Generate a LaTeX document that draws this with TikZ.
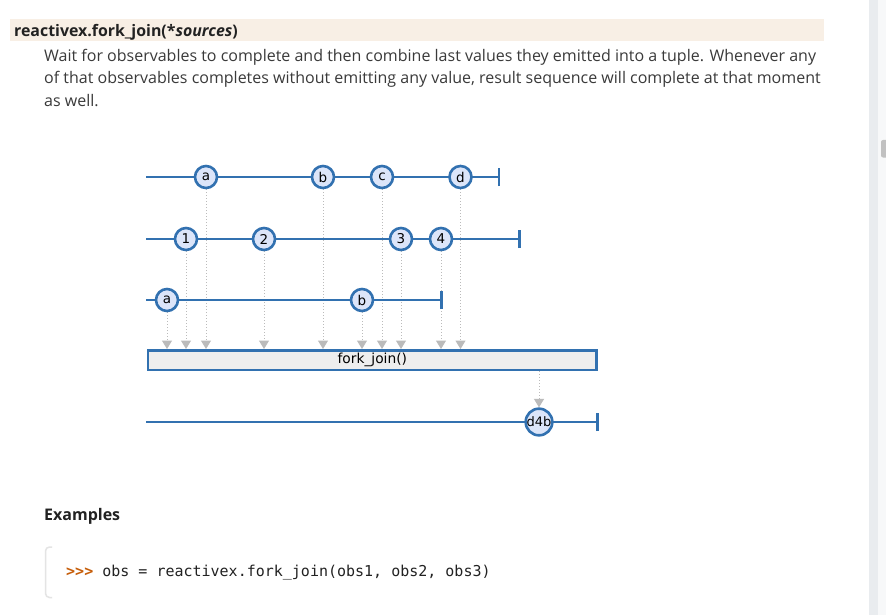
\documentclass[tikz,border=0pt]{standalone}
\usepackage{fontspec}
\setmainfont{Open Sans}
\setmonofont{DejaVu Sans Mono}
\newfontfamily\marblefont{DejaVu Sans}
\usetikzlibrary{arrows.meta,positioning,backgrounds}
\definecolor{rxblue}{HTML}{3271B0}
\definecolor{rxfill}{HTML}{DCE5F9}
\definecolor{rxgray}{HTML}{BBBBBB}
\definecolor{opfill}{HTML}{EEEEEE}
\definecolor{titlebar}{HTML}{F8EFE5}
\definecolor{titletext}{HTML}{222222}
\definecolor{bodytext}{HTML}{3A3A3A}
\definecolor{promptred}{HTML}{C65D09}
\definecolor{codeedge}{HTML}{E4E4E4}
\definecolor{scrolltrack}{HTML}{E9ECEF}
\definecolor{scrollside}{HTML}{F7F8F9}
\definecolor{scrollthumb}{HTML}{C1C1C1}

\begin{document}
\begin{tikzpicture}[
  x=1pt, y=-1pt,
  timeline/.style={rxblue, line width=2.4pt},
  marble/.style={circle, draw=rxblue, fill=rxfill, line width=2.6pt, minimum size=22pt, inner sep=0pt, font=\marblefont\fontsize{13.5}{15}\selectfont},
  opbox/.style={rectangle, draw=rxblue, fill=opfill, line width=2.5pt, minimum width=448.5pt, minimum height=19.5pt, inner sep=0pt, font=\marblefont\fontsize{13.8}{15}\selectfont},
  drop/.style={rxgray, line width=1pt, dash pattern=on 1pt off 2pt, -{Triangle[width=10pt,length=8.5pt]}},
  body/.style={anchor=base west, inner sep=0pt, text=bodytext, font=\fontsize{16}{19}\selectfont},
]
  \useasboundingbox (0,0) rectangle (886,615);

  % Page header
  \fill[titlebar] (10,19) rectangle (824,41);
  \node[anchor=base west, inner sep=0pt, text=titletext, font=\bfseries\fontsize{15.9}{18}\selectfont] (title) at (14,36.5) {reactivex.fork\_join(*\textit{sources})};
  \node[body] (line1) at (44,61.5) {Wait for observables to complete and then combine last values they emitted into a tuple. Whenever any};
  \node[body] (line2) at (44,84) {of that observables completes without emitting any value, result sequence will complete at that moment};
  \node[body] (line3) at (44,106.5) {as well.};

  % Source observables
  \node[marble] (s1a) at (206,177) {a};
  \node[marble] (s1b) at (323,177) {b};
  \node[marble] (s1c) at (382,177) {c};
  \node[marble] (s1d) at (460.5,177) {d};
  \coordinate (s1start) at (146,177);
  \coordinate (s1end) at (499,177);

  \node[marble] (s2a) at (186,239) {1};
  \node[marble] (s2b) at (264,239) {2};
  \node[marble] (s2c) at (401,239) {3};
  \node[marble] (s2d) at (441,239) {4};
  \coordinate (s2start) at (146,239);
  \coordinate (s2end) at (519.5,239);

  \node[marble] (s3a) at (167,300) {a};
  \node[marble] (s3b) at (362,300) {b};
  \coordinate (s3start) at (146,300);
  \coordinate (s3end) at (441.5,300);

  % Operator
  \node[opbox] (op) at (372.3,360) {fork\_join()};

  % Result
  \node[marble, font=\marblefont\fontsize{13}{15}\selectfont] (res) at (539,422) {d4b};
  \coordinate (rstart) at (146,422);
  \coordinate (rend) at (597.5,422);

  \begin{scope}[on background layer]
    \fill[white] (0,0) rectangle (886,615);
    % Drops into the operator
    \foreach \m in {s1a,s1b,s1c,s1d,s2a,s2b,s2c,s2d,s3a,s3b}
      \draw[drop] (\m.south) -- (\m |- op.north);
    \draw[drop] (op.south -| res) -- (res.north);
    % Timelines
    \draw[timeline] (s1start) -- (s1end);
    \draw[timeline] (s2start) -- (s2end);
    \draw[timeline] (s3start) -- (s3end);
    \draw[timeline] (rstart) -- (rend);
    \foreach \e in {s1end,s2end,s3end,rend}
      \draw[timeline] ([yshift=-9pt]\e) -- ([yshift=9pt]\e);
  \end{scope}

  % Examples
  \node[anchor=base west, inner sep=0pt, text=titletext, font=\bfseries\fontsize{16}{19}\selectfont] (examples) at (44,520) {Examples};
  \draw[codeedge, line width=1.5pt, rounded corners=4pt] (52,547) -- (45.5,547) -- (45.5,597.5) -- (52,597.5);
  \node[anchor=base west, inner sep=0pt, text=titletext, font=\ttfamily\fontsize{15}{18}\selectfont] (code) at (66,576) {\textcolor{promptred}{\bfseries >>>} obs = reactivex.fork\_join(obs1, obs2, obs3)};

  % Scrollbar
  \fill[scrolltrack] (869,0) rectangle (878,615);
  \fill[scrollside] (878,0) rectangle (886,615);
  \fill[scrollthumb, rounded corners=2pt] (881,140) rectangle (888,157.5);
\end{tikzpicture}
\end{document}
